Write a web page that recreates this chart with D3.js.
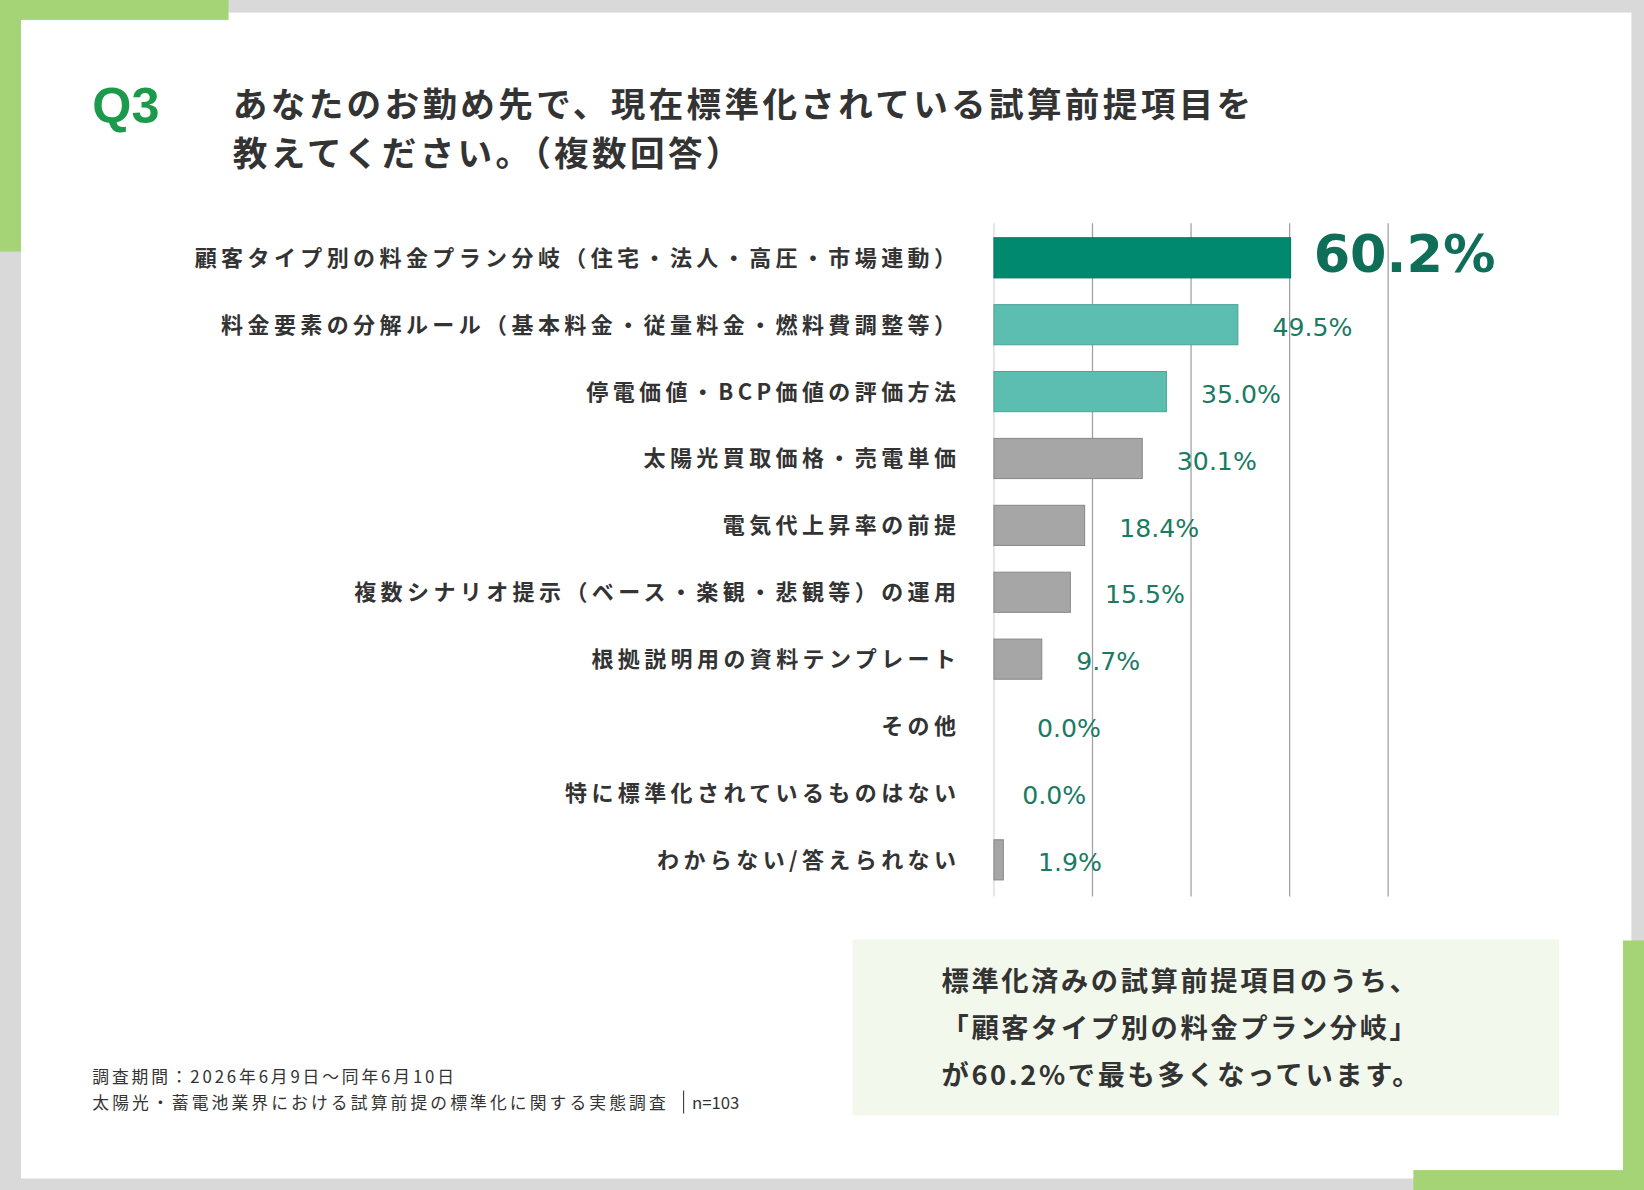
<!DOCTYPE html>
<html><head><meta charset="utf-8">
<script src="https://cdn.jsdelivr.net/npm/d3@7"></script>
<style>body{margin:0;background:#d9d9d9}svg{display:block;font-family:"Noto Sans CJK JP","Noto Sans",sans-serif}</style>
</head><body>
<svg id="c" width="1644" height="1190" viewBox="0 0 1568 1135"></svg>
<script>
const categories = ["顧客タイプ別の料金プラン分岐（住宅・法人・高圧・市場連動）","料金要素の分解ルール（基本料金・従量料金・燃料費調整等）","停電価値・BCP価値の評価方法","太陽光買取価格・売電単価","電気代上昇率の前提","複数シナリオ提示（ベース・楽観・悲観等）の運用","根拠説明用の資料テンプレート","その他","特に標準化されているものはない","わからない/答えられない"];
const values = [60.2,49.5,35.0,30.1,18.4,15.5,9.7,0.0,0.0,1.9];
const colors = ["#00896f","#5cbdb1","#5cbdb1","#a6a6a6","#a6a6a6","#a6a6a6","#a6a6a6","#a6a6a6","#a6a6a6","#a6a6a6"];
const gridTicks = [20,40,60,80];

const svg = d3.select("#c");
// frame
svg.append("rect").attr("width",1568).attr("height",1135).attr("fill","#d9d9d9");
svg.append("rect").attr("x",20).attr("y",12).attr("width",1536).attr("height",1112).attr("fill","#fff");
const g1="#a5d477";
svg.append("rect").attr("x",0).attr("y",0).attr("width",218).attr("height",19).attr("fill",g1);
svg.append("rect").attr("x",0).attr("y",0).attr("width",20).attr("height",240).attr("fill",g1);
svg.append("rect").attr("x",1548).attr("y",897).attr("width",20).attr("height",238).attr("fill",g1);
svg.append("rect").attr("x",1348).attr("y",1116).attr("width",220).attr("height",19).attr("fill",g1);

// title
svg.append("text").attr("x",88).attr("y",117).attr("font-size",48).attr("font-weight",700).attr("fill","#1a9a4a").attr("font-family","Liberation Sans, Arial, sans-serif").text("Q3");
[["あなたのお勤め先で、現在標準化されている試算前提項目を",112],["教えてください。（複数回答）",158]].forEach(([t,y])=>
  svg.append("text").attr("x",222).attr("y",y).attr("font-size",33).attr("font-weight",700).attr("letter-spacing",3.2).attr("fill","#333").text(t));

// chart
const x = d3.scaleLinear().domain([0,80]).range([948,1324]);
const y = d3.scaleBand().domain(categories).range([214,852]).paddingInner(0.4).paddingOuter(0.2);
svg.append("g").selectAll("line").data(gridTicks).join("line")
  .attr("x1",d=>x(d)).attr("x2",d=>x(d)).attr("y1",213).attr("y2",855).attr("stroke","#a0a0a0").attr("stroke-width",1.2);
svg.append("line").attr("x1",x(0)).attr("x2",x(0)).attr("y1",213).attr("y2",855).attr("stroke","#d0d0d0");
svg.append("g").selectAll("rect").data(values).join("rect")
  .attr("x",x(0)).attr("y",(d,i)=>y(categories[i])).attr("width",d=>x(d)-x(0)).attr("height",y.bandwidth())
  .attr("fill",(d,i)=>colors[i]).attr("stroke",(d,i)=>i<3?d3.color(colors[i]).darker(0.4):"#8a8a8a").attr("stroke-width",1)
  .attr("display",d=>d>0?null:"none");
svg.append("g").selectAll("text").data(categories).join("text")
  .attr("x",916).attr("y",d=>y(d)+y.bandwidth()/2).attr("dy","0.36em").attr("text-anchor","end")
  .attr("font-size",21).attr("font-weight",700).attr("letter-spacing",4.2).attr("fill","#333").text(d=>d);
svg.append("g").selectAll("text").data(values).join("text")
  .attr("x",(d,i)=>i===0?x(d)+22:x(d)+33+(d===0?(i===7?8:-6):0))
  .attr("y",(d,i)=>y(categories[i])+y.bandwidth()/2+(i===0?-4:2)).attr("dy","0.36em")
  .attr("font-family","DejaVu Sans, sans-serif")
  .attr("font-size",(d,i)=>i===0?50:24).attr("font-weight",(d,i)=>i===0?700:400)
  .attr("fill",(d,i)=>i===0?"#0f6e58":"#1a7a62").text(d=>d.toFixed(1)+"%");

// callout
svg.append("rect").attr("x",813).attr("y",896).attr("width",674).attr("height",168).attr("fill","#f2f8ec");
[["標準化済みの試算前提項目のうち、",945],["「顧客タイプ別の料金プラン分岐」",990],["が60.2%で最も多くなっています。",1035]].forEach(([t,yy])=>
  svg.append("text").attr("x",898).attr("y",yy).attr("font-size",26).attr("font-weight",700).attr("letter-spacing",2.5).attr("fill","#333").text(t));

// footnote
svg.append("text").attr("x",88).attr("y",1033).attr("font-size",16).attr("fill","#333")
  .attr("textLength",345).attr("lengthAdjust","spacing").text("調査期間：2026年6月9日～同年6月10日");
svg.append("text").attr("x",88).attr("y",1058).attr("font-size",16).attr("fill","#333")
  .attr("textLength",547).attr("lengthAdjust","spacing").text("太陽光・蓄電池業界における試算前提の標準化に関する実態調査");
svg.append("line").attr("x1",652).attr("x2",652).attr("y1",1040).attr("y2",1062).attr("stroke","#333");
svg.append("text").attr("x",660).attr("y",1058).attr("font-size",16).attr("fill","#333").text("n=103");
</script>
</body></html>
